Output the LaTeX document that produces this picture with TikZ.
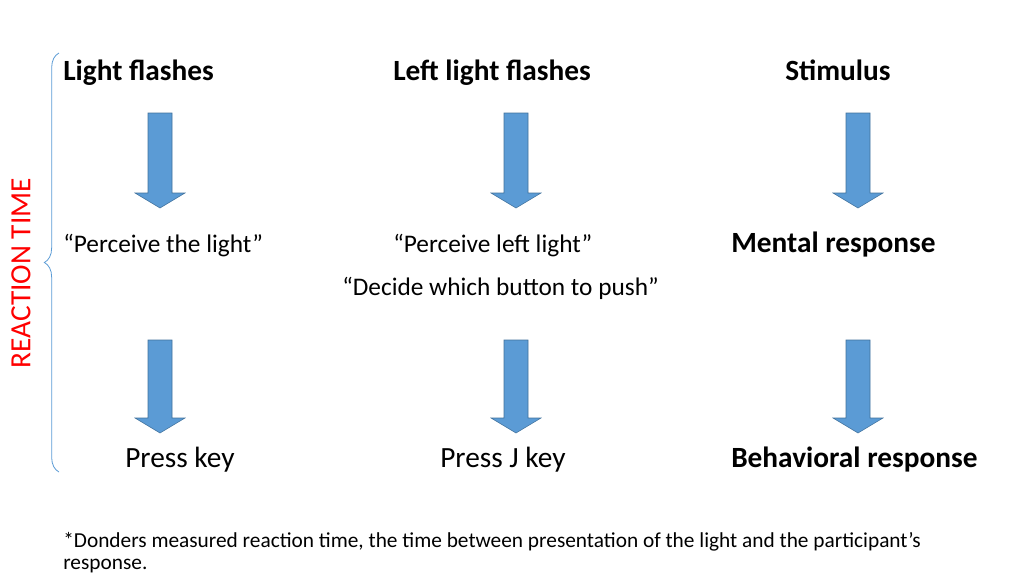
\documentclass[tikz,border=0pt]{standalone}
\usepackage{fontspec}
\setmainfont{Carlito}
\usepackage{tikz}
\usepackage{xcolor}
\usetikzlibrary{positioning,decorations.pathreplacing}

\definecolor{slideblue}{RGB}{91,155,213}
\definecolor{slideedge}{RGB}{65,113,156}

% block arrow pointing down: centre x, top y, length
\newcommand{\blockarrow}[3]{%
\filldraw [arrowfill] (#1-12,#2) -- (#1+12,#2) -- (#1+12,#2+#3-15) -- (#1+25,#2+#3-15)
  -- (#1,#2+#3) -- (#1-25,#2+#3-15) -- (#1-12,#2+#3-15) -- cycle;}

\begin{document}
\begin{tikzpicture}[x=0.75pt,y=-0.75pt,
  every node/.style={inner sep=0pt,font=\fontsize{22}{26}\selectfont},
  head/.style={anchor=base west,font=\fontsize{22}{26}\selectfont\bfseries},
  plain/.style={anchor=base west},
  quote/.style={anchor=base west,font=\fontsize{19}{23}\selectfont},
  arrowfill/.style={fill=slideblue,draw=slideedge,line width=0.4pt}]
\useasboundingbox (0,0) rectangle (1024,576);

% top row
\node [head] (light) at (63,80) {Light flashes};
\node [head] (leftlight) at (393,80) {Left light flashes};
\node [head] (stim) at (785,80) {Stimulus};

\blockarrow{160}{113}{95}
\blockarrow{516}{113}{95}
\blockarrow{858}{113}{95}

% middle row
\node [quote] (perc) at (63,252) {``Perceive the light''};
\node [quote] (percleft) at (393,252) {``Perceive left light''};
\node [quote] (decide) at (342,295) {``Decide which button to push''};
\node [head] (mental) at (731,252) {Mental response};

\blockarrow{160}{340}{93}
\blockarrow{516}{340}{93}
\blockarrow{858}{340}{93}

% bottom row
\node [plain] (press) at (125,467) {Press key};
\node [plain] (pressj) at (440,467) {Press J key};
\node [head] (behav) at (731,467) {Behavioral response};

% brace and label
\coordinate (bbot) at (59,472);
\coordinate (btop) at (59,53);
\draw [slideblue,line width=0.6pt,decorate,decoration={brace,amplitude=11pt}] (bbot) -- (btop);
\node [red,rotate=90] (rt) at (21,273) {REACTION TIME};

% footnote
\node [anchor=base west,align=left,font=\fontsize{16}{16.5}\selectfont] (note) at (63,569)
  {*Donders measured reaction time, the time between presentation of the light and the participant's\\response.};
\end{tikzpicture}
\end{document}
